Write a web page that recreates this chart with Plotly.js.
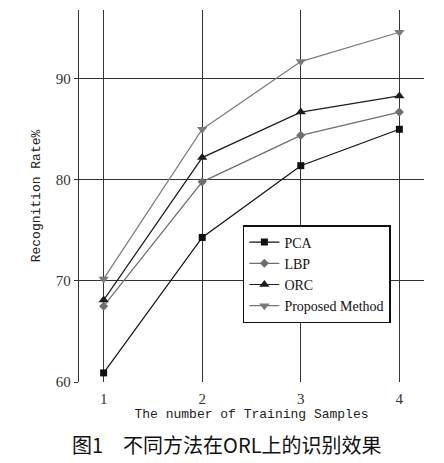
<!DOCTYPE html>
<html>
<head>
<meta charset="utf-8">
<script src="https://cdn.plot.ly/plotly-3.0.1.min.js"></script>
<style>
  html, body { margin: 0; padding: 0; background: #fff; }
  #chart { width: 444px; height: 463px; }
</style>
</head>
<body>
<div id="chart"></div>
<script>
var samples = [1, 2, 3, 4];
var pca = [60.9, 74.3, 81.4, 85.0];
var lbp = [67.5, 79.8, 84.4, 86.7];
var orc = [68.1, 82.2, 86.7, 88.3];
var proposed = [70.2, 85.0, 91.7, 94.6];

function series(name, y, color, symbol, size) {
    return {
        x: samples,
        y: y,
        name: name,
        type: "scatter",
        mode: "lines+markers",
        line: { color: color, width: 1.2 },
        marker: { symbol: symbol, size: size, color: color },
    };
}

var dataset = [
    series("PCA", pca, "#111111", "square", 7),
    series("LBP", lbp, "#6e6e6e", "diamond", 7),
    series("ORC", orc, "#1e1e1e", "triangle-up", 9),
    series("Proposed Method", proposed, "#7a7a7a", "triangle-down", 9),
];

var layout = {
    width: 444,
    height: 463,
    margin: { l: 79, r: 20, t: 10, b: 81 },
    paper_bgcolor: "#ffffff",
    plot_bgcolor: "#ffffff",
    font: { family: "Liberation Serif", color: "#222" },
    showlegend: true,
    legend: {
        x: 0.475,
        y: 0.422,
        xanchor: "left",
        yanchor: "top",
        bgcolor: "#ffffff",
        bordercolor: "#111",
        borderwidth: 1.5,
        font: { family: "Liberation Serif", size: 14, color: "#111" },
    },
    xaxis: {
        range: [0.75, 4.25],
        tickvals: samples,
        showgrid: true,
        gridcolor: "#333",
        gridwidth: 1,
        zeroline: false,
        showline: false,
        ticks: "",
        ticklabelstandoff: 6,
        tickfont: { family: "Liberation Serif", size: 15, color: "#333" },
        title: {
            text: "The number of Training Samples",
            font: { family: "Liberation Mono", size: 13, color: "#222" },
            standoff: 1,
        },
    },
    yaxis: {
        range: [60, 96.8],
        tickvals: [60, 70, 80, 90],
        showgrid: true,
        gridcolor: "#333",
        gridwidth: 1,
        zeroline: false,
        showline: true,
        linecolor: "#333",
        linewidth: 1.2,
        ticks: "outside",
        ticklen: 4,
        tickcolor: "#333",
        tickfont: { family: "Liberation Serif", size: 15, color: "#333" },
        title: {
            text: "Recognition Rate%",
            font: { family: "Liberation Mono", size: 13, color: "#222" },
            standoff: 12,
        },
    },
    annotations: [
        {
            text: "图1　不同方法在ORL上的识别效果",
            xref: "paper",
            yref: "paper",
            x: 0.43,
            y: -0.169,
            xanchor: "center",
            yanchor: "middle",
            showarrow: false,
            font: { family: "Noto Sans CJK SC", size: 20, color: "#111" },
        },
    ],
};

Plotly.newPlot("chart", dataset, layout, { displayModeBar: false, staticPlot: true });
</script>
</body>
</html>
